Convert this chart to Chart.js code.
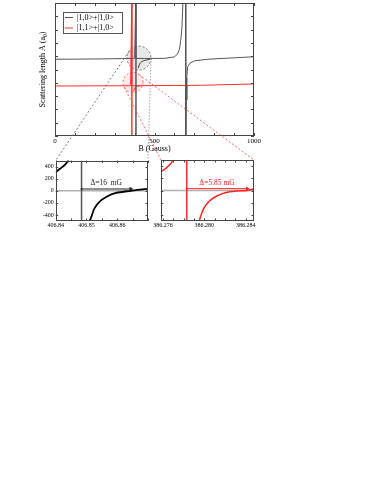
<!DOCTYPE html>
<html>
<head>
<meta charset="utf-8">
<script src="https://cdn.jsdelivr.net/npm/chart.js@4"></script>
<style>
  body { margin: 0; background: #fff; }
  #page { position: relative; width: 382px; height: 494px; overflow: hidden; }
  canvas { position: absolute; }
</style>
</head>
<body>
<div id="page">
  <canvas id="mainChart" width="270" height="160" style="left:0;top:0"></canvas>
  <canvas id="insetLeft" width="137" height="80" style="left:15px;top:155px"></canvas>
  <canvas id="insetRight" width="110" height="80" style="left:152px;top:155px"></canvas>
  <canvas id="overlay" width="382" height="494" style="left:0;top:0;pointer-events:none"></canvas>
</div>
<script>
// ---- main panel: scattering length vs B ----
const seriesNames = ['|1,0>+|1,0>', '|1,1>+|1,0>'];

const blackField  = [0, 100, 200, 300, 400, 406.84, 406.85, 406.87, 450, 553, 600, 615, 625, 632, 638, 642, 644, 657, 657, 662, 667, 678, 703, 769, 850, 930, 1000];
const blackLength = [77, 78, 79, 81, 84, 600, -600, 83, 83, 84, 95, 115, 150, 220, 320, 470, 600, 600, -600, -54, 21, 47, 66, 77, 84, 90, 96];

const redField  = [0, 200, 380, 386.277, 386.279, 386.3, 500, 600, 660, 661.5, 662.5, 664, 729, 850, 1000];
const redLength = [-124, -123, -122, 600, -600, -122, -121, -120, -120, -64, -229, -120, -119, -114, -109];

// little "magnified" hooks inside the circles
const blackHookField  = [419, 425, 437, 457, 477];
const blackHookLength = [11, 41, 60, 71, 77];
const redHookField  = [396, 399, 405, 415, 430];
const redHookLength = [-165, -145, -132, -125, -123];

const mainXTicks  = [0, 100, 200, 300, 400, 500, 600, 700, 800, 900, 1000];
const mainXLabels = [0, 500, 1000];
const mainYTicks  = [-500, -400, -300, -200, -100, 0, 100, 200, 300, 400, 500];

// ---- zoomed panels ----
const leftUpField    = [406.8400, 406.84138, 406.84299, 406.84405, 406.8446];
const leftUpLength   = [308, 364, 430, 500, 600];
const leftDownField  = [406.8505, 406.8508, 406.8516, 406.8526, 406.8542, 406.8564, 406.8596, 406.8644, 406.8698, 406.87];
const leftDownLength = [-650, -538, -430, -292, -184, -102, -36, 0, 33, 36];
const leftPole = 406.8484, leftZero = 406.8644;
const leftRange = [406.84, 406.87];
const leftXTicks  = [406.84, 406.845, 406.85, 406.855, 406.86, 406.865, 406.87];
const leftXLabels = [406.84, 406.85, 406.86];

const rightUpField    = [386.2758, 386.27628, 386.27669, 386.27702, 386.2772];
const rightUpLength   = [308, 364, 430, 500, 600];
const rightDownField  = [386.2794, 386.27947, 386.27963, 386.27995, 386.28042, 386.28107, 386.28202, 386.28314, 386.28415, 386.28473, 386.2848];
const rightDownLength = [-650, -538, -430, -292, -184, -102, -36, -8, 0, 25, 28];
const rightPole = 386.2783, rightZero = 386.28415;
const rightRange = [386.2758, 386.2848];
const rightXTicks  = [386.276, 386.277, 386.278, 386.279, 386.280, 386.281, 386.282, 386.283, 386.284];
const rightXLabels = [386.276, 386.280, 386.284];

const insetYTicks  = [-400, -200, 0, 200, 400];
const insetYLabels = [-400, -200, 0, 200, 400];
const arrowLevel = 30;

const serif = "'Liberation Serif', 'DejaVu Serif', serif";

const pts = (xs, ys) => xs.map((x, i) => ({ x: x, y: ys[i] }));
const near = (list, v) => list.some(t => Math.abs(t - v) < 1e-7);

// box + inward tick marks on all four sides
const framePlugin = {
  id: 'frame',
  afterDatasetsDraw(chart, args, opts) {
    const { ctx, chartArea: a, scales: { x, y } } = chart;
    ctx.save();
    ctx.strokeStyle = opts.color;
    ctx.lineWidth = 1;
    ctx.strokeRect(Math.round(a.left) + 0.5, Math.round(a.top) + 0.5, Math.round(a.width) - 1, Math.round(a.height) - 1);
    ctx.beginPath();
    x.ticks.forEach(t => {
      const px = Math.round(x.getPixelForValue(t.value)) + 0.5;
      ctx.moveTo(px, a.bottom); ctx.lineTo(px, a.bottom - opts.len);
      ctx.moveTo(px, a.top); ctx.lineTo(px, a.top + opts.len);
    });
    y.ticks.forEach(t => {
      const py = Math.round(y.getPixelForValue(t.value)) + 0.5;
      ctx.moveTo(a.left, py); ctx.lineTo(a.left + opts.len, py);
      ctx.moveTo(a.right, py); ctx.lineTo(a.right - opts.len, py);
    });
    ctx.stroke();
    ctx.restore();
  }
};

const magnifiers = [
  { field: 422, length: 86, radius: 12, fill: 'rgba(0,0,0,0.09)', stroke: '#555' },
  { field: 392, length: -98, radius: 10, fill: 'rgba(255,0,0,0.08)', stroke: '#ff4040' }
];

const magnifierPlugin = {
  id: 'magnifier',
  beforeDatasetsDraw(chart) {
    const { ctx, scales: { x, y } } = chart;
    ctx.save();
    magnifiers.forEach(m => {
      ctx.beginPath();
      ctx.arc(x.getPixelForValue(m.field), y.getPixelForValue(m.length), m.radius, 0, Math.PI * 2);
      ctx.fillStyle = m.fill;
      ctx.fill();
      ctx.setLineDash([2, 2]);
      ctx.strokeStyle = m.stroke;
      ctx.lineWidth = 0.8;
      ctx.stroke();
    });
    ctx.restore();
  }
};

const legendPlugin = {
  id: 'boxLegend',
  afterDraw(chart) {
    const { ctx, chartArea: a } = chart;
    const x0 = Math.round(a.left) + 8, y0 = Math.round(a.top) + 9;
    ctx.save();
    ctx.strokeStyle = '#555';
    ctx.lineWidth = 1;
    ctx.strokeRect(x0 + 0.5, y0 + 0.5, 59, 21);
    ctx.font = '8px ' + serif;
    ctx.textBaseline = 'middle';
    ctx.fillStyle = '#000';
    seriesNames.forEach((name, i) => {
      const yy = y0 + 5.5 + i * 10.5;
      ctx.beginPath();
      ctx.moveTo(x0 + 2, yy); ctx.lineTo(x0 + 10, yy);
      ctx.strokeStyle = chart.data.datasets[i].borderColor;
      ctx.stroke();
      ctx.fillText(name, x0 + 14, yy);
    });
    ctx.restore();
  }
};

// label drawn above the delta arrow (dataset 0 of an inset)
const deltaPlugin = {
  id: 'delta',
  afterDatasetsDraw(chart, args, opts) {
    const { ctx, scales: { x, y } } = chart;
    const d = chart.data.datasets[0].data;
    const mid = (x.getPixelForValue(d[0].x) + x.getPixelForValue(d[1].x)) / 2;
    ctx.save();
    ctx.font = opts.size + 'px ' + serif;
    ctx.fillStyle = opts.color;
    ctx.textAlign = 'center';
    ctx.textBaseline = 'bottom';
    ctx.fillText(opts.text, mid, y.getPixelForValue(d[0].y) - 2);
    ctx.restore();
  }
};

const mainChart = new Chart(document.getElementById('mainChart'), {
  type: 'line',
  data: {
    datasets: [
      { data: pts(blackField, blackLength), borderColor: '#555', borderWidth: 1, pointRadius: 0 },
      { data: pts(redField, redLength), borderColor: '#ff3030', borderWidth: 1, pointRadius: 0 },
      { data: pts(blackHookField, blackHookLength), borderColor: '#444', borderWidth: 1, pointRadius: 0, tension: 0.4 },
      { data: pts(redHookField, redHookLength), borderColor: '#ff3030', borderWidth: 1, pointRadius: 0, tension: 0.4 }
    ]
  },
  options: {
    responsive: false,
    animation: false,
    devicePixelRatio: 1,
    layout: { padding: { left: 0, right: 16, top: 3, bottom: 0 } },
    plugins: {
      legend: { display: false },
      tooltip: { enabled: false },
      frame: { color: '#444', len: 3 }
    },
    scales: {
      x: {
        type: 'linear', min: 0, max: 1000,
        grid: { display: false, drawTicks: false },
        border: { display: false },
        afterBuildTicks: s => { s.ticks = mainXTicks.map(v => ({ value: v })); },
        afterFit: s => { s.height = 24; },
        ticks: {
          autoSkip: false, maxRotation: 0, padding: 1, color: '#000',
          font: { family: serif, size: 7 },
          callback: v => near(mainXLabels, v) ? String(v) : ''
        },
        title: { display: true, text: 'B (Gauss)', color: '#000', font: { family: serif, size: 8 }, padding: { top: 0, bottom: 6 } }
      },
      y: {
        min: -500, max: 500,
        grid: { display: false, drawTicks: false },
        border: { display: false },
        ticks: { display: false },
        afterBuildTicks: s => { s.ticks = mainYTicks.map(v => ({ value: v })); },
        afterFit: s => { s.width = 55; },
        title: { display: true, text: 'Scattering length A (a\u2080)', color: '#000', font: { family: serif, size: 8 }, padding: { top: 38, bottom: 0 } }
      }
    }
  },
  plugins: [magnifierPlugin, framePlugin, legendPlugin]
});

function makeInset(id, cfg) {
  return new Chart(document.getElementById(id), {
    type: 'line',
    data: {
      datasets: [
        { data: [{ x: cfg.pole, y: arrowLevel }, { x: cfg.zero, y: arrowLevel }], borderColor: cfg.arrow, borderWidth: 1,
          pointStyle: 'triangle', rotation: [270, 90], pointRadius: [1.5, 2.5], pointBackgroundColor: cfg.arrow, pointBorderColor: cfg.arrow, pointBorderWidth: 0 },
        { data: pts(cfg.upField, cfg.upLength), borderColor: cfg.curve, borderWidth: cfg.width, pointRadius: 0, tension: 0.3 },
        { data: pts(cfg.downField, cfg.downLength), borderColor: cfg.curve, borderWidth: cfg.width, pointRadius: 0, tension: 0.3 },
        { data: [{ x: cfg.pole, y: -500 }, { x: cfg.pole, y: 500 }], borderColor: cfg.poleColor, borderWidth: 1.5, pointRadius: 0 },
        { data: [{ x: cfg.range[0], y: 0 }, { x: cfg.range[1], y: 0 }], borderColor: '#b0b0b0', borderWidth: 1.5, pointRadius: 0 }
      ]
    },
    options: {
      responsive: false,
      animation: false,
      devicePixelRatio: 1,
      layout: { padding: { left: 0, right: cfg.padRight, top: 5, bottom: 0 } },
      plugins: {
        legend: { display: false },
        tooltip: { enabled: false },
        frame: { color: '#444', len: 2.5 },
        delta: { text: cfg.text, color: cfg.arrow, size: 7.5 }
      },
      scales: {
        x: {
          type: 'linear', min: cfg.range[0], max: cfg.range[1],
          grid: { display: false, drawTicks: false },
          border: { display: false },
          afterBuildTicks: s => { s.ticks = cfg.xTicks.map(v => ({ value: v })); },
          afterFit: s => { s.height = 14; },
          ticks: {
            autoSkip: false, maxRotation: 0, padding: 1, color: '#000',
            font: { family: serif, size: 6 },
            callback: v => near(cfg.xLabels, v) ? v.toFixed(cfg.digits) : ''
          }
        },
        y: {
          min: -500, max: 500,
          grid: { display: false, drawTicks: false },
          border: { display: false },
          afterBuildTicks: s => { s.ticks = insetYTicks.map(v => ({ value: v })); },
          afterFit: s => { s.width = cfg.yWidth; },
          ticks: {
            display: cfg.yLabels, padding: 2, color: '#000',
            font: { family: serif, size: 6 },
            callback: v => near(insetYLabels, v) ? String(v) : ''
          }
        }
      }
    },
    plugins: [framePlugin, deltaPlugin]
  });
}

const leftChart = makeInset('insetLeft', {
  pole: leftPole, zero: leftZero, range: leftRange,
  upField: leftUpField, upLength: leftUpLength, downField: leftDownField, downLength: leftDownLength,
  xTicks: leftXTicks, xLabels: leftXLabels, digits: 2,
  curve: '#000', width: 1.8, poleColor: '#555', arrow: '#222',
  text: '\u0394=16  mG', padRight: 3, yWidth: 40.7, yLabels: true
});

const rightChart = makeInset('insetRight', {
  pole: rightPole, zero: rightZero, range: rightRange,
  upField: rightUpField, upLength: rightUpLength, downField: rightDownField, downLength: rightDownLength,
  xTicks: rightXTicks, xLabels: rightXLabels, digits: 3,
  curve: '#ff2020', width: 1.5, poleColor: '#ff3030', arrow: '#ff2020',
  text: '\u0394=5.85 mG', padRight: 8, yWidth: 8, yLabels: false
});

// dashed lines from the circles down to the zoomed panels
function tangentPoint(cx, cy, r, px, py, pickMax) {
  const dx = px - cx, dy = py - cy;
  const d = Math.hypot(dx, dy);
  const th = Math.atan2(dy, dx);
  const al = Math.acos(r / d);
  const a1 = [cx + r * Math.cos(th + al), cy + r * Math.sin(th + al)];
  const a2 = [cx + r * Math.cos(th - al), cy + r * Math.sin(th - al)];
  if (pickMax) return a1[0] > a2[0] ? a1 : a2;
  return a1[0] < a2[0] ? a1 : a2;
}

function drawConnectors() {
  const ov = document.getElementById('overlay');
  const ctx = ov.getContext('2d');
  const mainCanvas = mainChart.canvas;
  const links = [
    { m: 0, chart: leftChart, side: 'left', dash: [2, 2] },
    { m: 0, chart: leftChart, side: 'right', dash: [1, 2] },
    { m: 1, chart: rightChart, side: 'left', dash: [2, 2] },
    { m: 1, chart: rightChart, side: 'right', dash: [2, 2] }
  ];
  links.forEach(l => {
    const mg = magnifiers[l.m];
    const cx = mainCanvas.offsetLeft + mainChart.scales.x.getPixelForValue(mg.field);
    const cy = mainCanvas.offsetTop + mainChart.scales.y.getPixelForValue(mg.length);
    const area = l.chart.chartArea;
    const tx = l.chart.canvas.offsetLeft + (l.side === 'left' ? area.left : area.right);
    const ty = l.chart.canvas.offsetTop + area.top;
    const s = tangentPoint(cx, cy, mg.radius, tx, ty, l.side === 'right');
    ctx.save();
    ctx.beginPath();
    ctx.setLineDash(l.dash);
    ctx.strokeStyle = mg.stroke;
    ctx.lineWidth = 0.8;
    ctx.moveTo(s[0], s[1]);
    ctx.lineTo(tx, ty);
    ctx.stroke();
    ctx.restore();
  });
}

drawConnectors();
</script>
</body>
</html>
